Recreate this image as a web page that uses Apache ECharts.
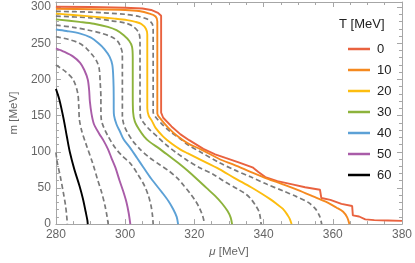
<!DOCTYPE html>
<html>
<head>
<meta charset="utf-8">
<script src="https://cdn.jsdelivr.net/npm/echarts@6/dist/echarts.min.js"></script>
<style>
html,body{margin:0;padding:0;background:#fff;}
#c{width:415px;height:263px;}
</style>
</head>
<body>
<div id="c"></div>
<script>
// ---- data (mu [MeV], m [MeV]) ----
const temps = ['0','10','20','30','40','50','60'];
const colors = ['#E9623F','#F5891F','#FDBD0F','#8DB33C','#5CA1D6','#A95CA8','#000000'];
const xTicks = [280,300,320,340,360,380];
const yTicks = [0,50,100,150,200,250,300];

const t0 = [[280,300.5],[290,300],[300,299],[305,298],[307.5,296],[309.5,292],[310.4,288],[310.4,250],[310.4,200],[310.4,154],[311,147],[313.4,135],[316,124],[318.5,116],[322.6,104],[326,96.5],[329,91.5],[333,85],[336.8,78.5],[338.5,72],[340.5,65],[344,59.5],[348.3,55],[352,51],[356.3,47.5],[356.7,36],[359.3,33.5],[362.5,28],[365.6,25],[365.8,12],[367.6,10.5],[369.4,6.5],[372,5.5],[376,5],[380,4.5]];
const t10 = [[280,297.5],[290,297],[300,296],[304,294.5],[307,291],[308.8,287],[309.3,280],[309.3,250],[309.3,220],[309.3,185],[309.3,153],[310.3,145],[312.5,133],[315,122],[318,112],[322,103],[327.2,90],[331.5,82],[336.4,72],[341,63],[345.6,55],[350,47],[354.7,37.5],[358.4,30],[361,23],[363,17],[364.2,9],[364.8,0]];
const d15 = [[280,294],[290,293],[300,290],[304,287],[306.5,283],[307.8,277],[308.1,268],[308.1,240],[308.1,210],[308.1,180],[308.1,155],[308.8,148],[310.5,139],[313,128],[316.2,117],[318,110],[322,99],[327.2,85],[331.5,75],[336.4,65],[341,55],[345.6,46],[349.5,38],[352.9,30],[355,21],[356.2,11],[356.8,0]];
const t20 = [[280,291],[285,289],[291.4,286.5],[297,284],[300.6,282],[303,279.5],[304.7,276.5],[306,270],[306.4,262],[306.4,240],[306.4,210],[306.4,180],[306.4,160],[306.8,150],[307.7,143],[308.8,133],[311,121],[313.5,111],[316,103],[318,98],[322,88.5],[327.2,76],[331.5,64],[336.4,51],[339.5,42],[341.9,34.5],[344,27],[345.6,21],[347,12],[347.6,7],[348.1,0]];
const d25 = [[280,287.5],[290,285],[296,281],[300,278],[302.4,273],[304,264],[304.3,250],[304.3,225],[304.3,200],[304.3,175],[304.4,149],[305.2,141],[307,131],[309.5,120],[312,109],[315,98],[318,88],[321.5,78],[325.4,69],[329,58],[332.7,48],[335,41],[336.4,34.5],[337.8,25],[338.7,17],[339.1,8],[339.3,0]];
const t30 = [[280,283],[286.8,279.5],[291,277],[295,272.5],[297.5,268],[299.6,261],[301.2,253],[302,245],[302.2,230],[302.2,205],[302.2,180],[302.3,155],[302.8,142],[304,131],[305.5,121],[307,114],[310,104],[313,93],[316,82],[318,74],[320.8,62],[323.5,50],[326,39],[328,28.5],[329.6,18],[330.5,9],[330.9,0]];
const d35 = [[280,275],[285,272],[289.5,268],[293,264],[296,259],[297.8,253],[298.7,245],[299.2,235],[299.2,210],[299.2,180],[299.2,150],[299.6,138],[300.6,127],[302.2,115],[304.2,104],[307,92],[310,82],[312.5,74],[315,64],[317,53],[318.7,43],[320.2,33],[321.3,24],[322.2,14],[322.7,6],[322.9,0]];
const t40 = [[280,269],[283,267],[286.8,263.7],[290,258],[292.3,250],[294,242],[295.5,231.5],[296.3,220],[296.6,200],[296.7,175],[296.7,160],[296.8,150],[297.5,138],[298.5,128],[299.6,117],[301.5,105],[303.5,91],[305.2,79],[307.5,63],[310.7,43.6],[312.5,32],[313.9,20.6],[314.9,10],[315.3,0]];
const d45 = [[280,259],[283.5,255.5],[286.8,250],[289,242],[290.5,234],[291.8,225],[292.5,215],[292.8,195],[293,175],[293,160],[293.1,145],[293.7,135],[295,122],[296.9,107],[299,95],[301.5,84],[303.5,70],[305.6,53],[306.8,38],[307.5,25],[307.9,12],[308.1,0]];
const t50 = [[280,243],[282.5,238],[285,231.5],[287,223],[288.2,213],[289.2,200],[289.6,185],[289.8,170],[290.3,152],[291,138],[292.5,125],[293.8,115],[295,104],[296,92],[297.2,78],[298.4,60],[299.4,46],[300.4,30],[301,16],[301.5,0]];
const d55 = [[280,220],[282.7,211],[285,199.5],[286.3,181],[286.6,163],[286.8,144],[287.5,128],[288.6,112],[290.7,83],[292,62],[293.2,44],[294.2,25],[294.8,10],[295.1,0]];
const t60 = [[280,187],[281,172],[282.2,146],[283.2,120],[284,100],[285.3,76],[286.8,53],[287.8,35],[288.6,17],[289.1,5],[289.2,0]];
const d65 = [[280,99],[280.4,85],[281.3,65],[282.2,42],[282.8,25],[283.1,12],[283.3,0]];

const solid = [t0,t10,t20,t30,t40,t50,t60];
const dashed = [d15,d25,d35,d45,d55,d65];

// ---- chart ----
const chart = echarts.init(document.getElementById('c'), null, {renderer:'canvas'});
const axisGray = '#a6a6a6';
const labelGray = '#666666';
const FONT = 'Liberation Sans, Arial';
function mkX(pos, show){
  return {type:'value', position:pos, min:xTicks[0], max:xTicks[xTicks.length-1], interval:20,
    axisLine:{show:true,onZero:false,lineStyle:{color:axisGray,width:1}},
    axisTick:{show:true,inside:true,length:5,lineStyle:{color:axisGray}},
    minorTick:{show:true,splitNumber:4,length:3,lineStyle:{color:axisGray}},
    splitLine:{show:false},
    axisLabel:{show:show,color:labelGray,fontSize:12,fontFamily:FONT,margin:5},
    name: show ? '{i|μ} [MeV]' : '', nameLocation:'middle', nameGap:21,
    nameTextStyle:{color:labelGray,fontSize:11.5,fontFamily:FONT,rich:{i:{fontStyle:'italic',color:labelGray,fontSize:11.5,fontFamily:FONT}}}
  };
}
function mkY(pos, show){
  return {type:'value', position:pos, min:0, max:307, interval:50,
    axisLine:{show:true,onZero:false,lineStyle:{color:axisGray,width:1}},
    axisTick:{show:true,inside:true,length:5,lineStyle:{color:axisGray}},
    minorTick:{show:true,splitNumber:5,length:3,lineStyle:{color:axisGray}},
    splitLine:{show:false},
    axisLabel:{show:show,color:labelGray,fontSize:12,fontFamily:FONT,margin:5,
      formatter:function(v){return yTicks.indexOf(v)>=0 ? String(v) : '';}},
    name: show ? 'm [MeV]' : '', nameLocation:'middle', nameGap:28, nameRotate:90,
    nameTextStyle:{color:labelGray,fontSize:11.5,fontFamily:FONT}
  };
}

const series = [];
dashed.forEach((d,i)=>{
  series.push({name:'d'+i,type:'line',data:d,showSymbol:false,symbol:'none',smooth:0.3,
    lineStyle:{color:'#7a7a7a',width:1.7,type:[5,3]},z:2,silent:true});
});
solid.forEach((d,i)=>{
  series.push({name:temps[i],type:'line',data:d,showSymbol:false,symbol:'none',smooth:i===0?false:0.3,
    lineStyle:{color:colors[i],width:1.9},itemStyle:{color:colors[i]},z:3,silent:true});
});

chart.setOption({
  animation:false,
  backgroundColor:'#ffffff',
  grid:{left:42,right:11,top:2,bottom:38,containLabel:false},
  xAxis:[mkX('bottom',true), mkX('top',false)],
  yAxis:[mkY('left',true), mkY('right',false)],
  legend:{data:temps, orient:'vertical', left:343, top:37, icon:'rect', itemWidth:22, itemHeight:2.5,
    itemGap:7, selectedMode:false,
    textStyle:{color:'#222',fontSize:13,fontFamily:FONT,lineHeight:14,padding:[0,0,0,2]}},
  graphic:[{type:'text',left:339,top:18,style:{text:'T [MeV]',fill:'#222',fontSize:13,fontFamily:FONT}}],
  series:series
});
</script>
</body>
</html>
